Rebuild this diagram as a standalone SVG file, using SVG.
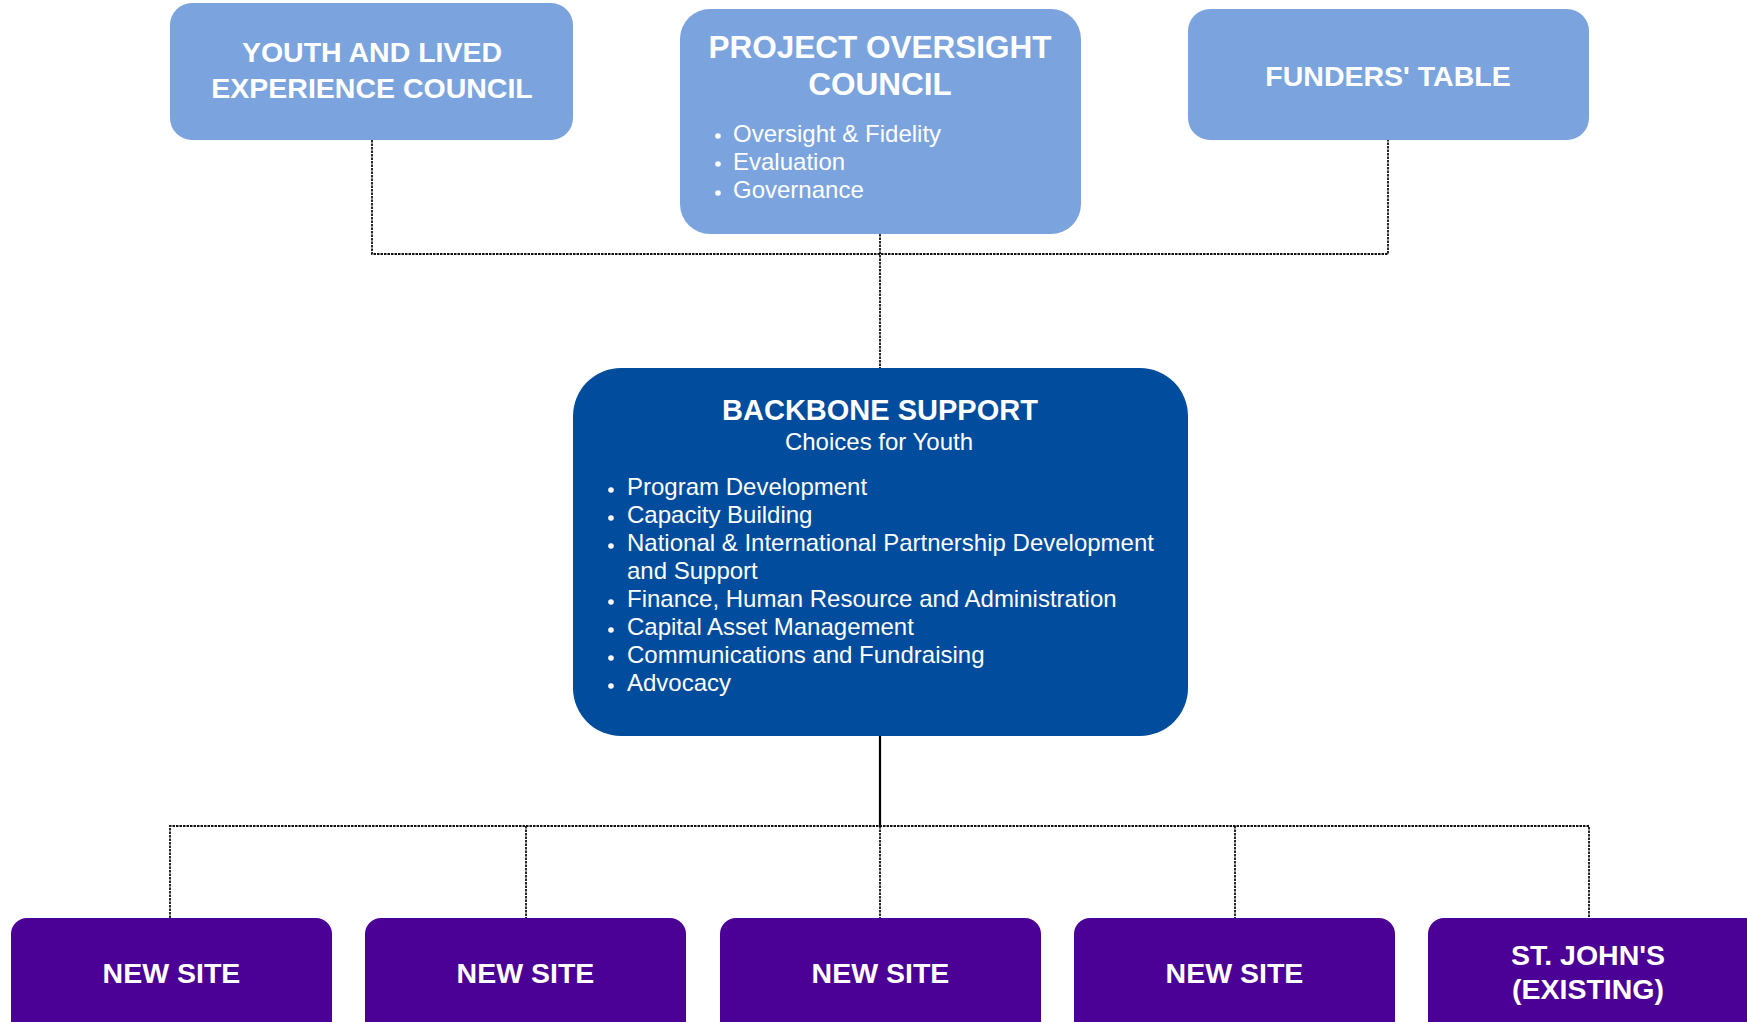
<svg xmlns="http://www.w3.org/2000/svg" width="1747" height="1022" viewBox="0 0 1747 1022">
  <defs>
    <style>
      .council { fill: #7BA4DE; }
      .backbone { fill: #014C9C; }
      .site { fill: #4B0096; }
      .title { font-family: "Liberation Sans", Arial, sans-serif; font-weight: bold; fill: #ffffff; text-anchor: middle; }
      .body { font-family: "Liberation Sans", Arial, sans-serif; fill: #ffffff; font-size: 24px; }
      .dot { fill: #ffffff; }
      .link { fill: none; stroke: #111111; stroke-width: 1.8; stroke-dasharray: 2.5 1; }
      .trunk { fill: none; stroke: #000000; stroke-width: 2.2; }
    </style>
  </defs>
  <rect width="1747" height="1022" fill="#ffffff"/>

  <!-- connectors -->
  <g id="connectors">
    <path class="link" d="M372 140 V254 H1388 V140"/>
    <path class="link" d="M880 234 V368"/>
    <path class="trunk" d="M880 736 V826"/>
    <path class="link" d="M170 918 V826 H1589 V918"/>
    <path class="link" d="M526 826 V918"/>
    <path class="link" d="M880 826 V918"/>
    <path class="link" d="M1235 826 V918"/>
  </g>

  <!-- governance tier -->
  <g id="youth-council">
    <rect class="council" x="170" y="3" width="403" height="137" rx="22"/>
    <text class="title" font-size="28.5" x="372" y="62">YOUTH AND LIVED</text>
    <text class="title" font-size="28.5" x="372" y="98">EXPERIENCE COUNCIL</text>
  </g>

  <g id="project-oversight-council">
    <rect class="council" x="680" y="9" width="401" height="225" rx="30"/>
    <text class="title" font-size="31.5" x="880" y="58">PROJECT OVERSIGHT</text>
    <text class="title" font-size="31.5" x="880" y="95">COUNCIL</text>
    <circle class="dot" cx="718" cy="136" r="2.8"/>
    <circle class="dot" cx="718" cy="164" r="2.8"/>
    <circle class="dot" cx="718" cy="193" r="2.8"/>
    <text class="body" x="733" y="141.5">Oversight &amp; Fidelity</text>
    <text class="body" x="733" y="169.5">Evaluation</text>
    <text class="body" x="733" y="198">Governance</text>
  </g>

  <g id="funders-table">
    <rect class="council" x="1188" y="9" width="401" height="131" rx="22"/>
    <text class="title" font-size="28.5" x="1388" y="86">FUNDERS' TABLE</text>
  </g>

  <!-- backbone organisation -->
  <g id="backbone-support">
    <rect class="backbone" x="573" y="368" width="615" height="368" rx="48"/>
    <text class="title" font-size="29" x="880" y="420">BACKBONE SUPPORT</text>
    <text class="body" x="879" y="450" text-anchor="middle">Choices for Youth</text>
    <g>
      <circle class="dot" cx="611" cy="490" r="2.8"/>
      <circle class="dot" cx="611" cy="518" r="2.8"/>
      <circle class="dot" cx="611" cy="546" r="2.8"/>
      <circle class="dot" cx="611" cy="602" r="2.8"/>
      <circle class="dot" cx="611" cy="630" r="2.8"/>
      <circle class="dot" cx="611" cy="658" r="2.8"/>
      <circle class="dot" cx="611" cy="686" r="2.8"/>
    </g>
    <text class="body" x="627" y="495">Program Development</text>
    <text class="body" x="627" y="523">Capacity Building</text>
    <text class="body" x="627" y="551">National &amp; International Partnership Development</text>
    <text class="body" x="627" y="579">and Support</text>
    <text class="body" x="627" y="607">Finance, Human Resource and Administration</text>
    <text class="body" x="627" y="635">Capital Asset Management</text>
    <text class="body" x="627" y="663">Communications and Fundraising</text>
    <text class="body" x="627" y="691">Advocacy</text>
  </g>

  <!-- sites -->
  <g id="site-1">
    <rect class="site" x="11" y="918" width="321" height="130" rx="16"/>
    <text class="title" font-size="28.5" x="171.5" y="983">NEW SITE</text>
  </g>
  <g id="site-2">
    <rect class="site" x="365" y="918" width="321" height="130" rx="16"/>
    <text class="title" font-size="28.5" x="525.5" y="983">NEW SITE</text>
  </g>
  <g id="site-3">
    <rect class="site" x="720" y="918" width="321" height="130" rx="16"/>
    <text class="title" font-size="28.5" x="880.5" y="983">NEW SITE</text>
  </g>
  <g id="site-4">
    <rect class="site" x="1074" y="918" width="321" height="130" rx="16"/>
    <text class="title" font-size="28.5" x="1234.5" y="983">NEW SITE</text>
  </g>
  <g id="site-st-johns">
    <rect class="site" x="1428" y="918" width="340" height="130" rx="16"/>
    <text class="title" font-size="28.5" x="1588" y="965">ST. JOHN'S</text>
    <text class="title" font-size="28.5" x="1588" y="999">(EXISTING)</text>
  </g>
</svg>
